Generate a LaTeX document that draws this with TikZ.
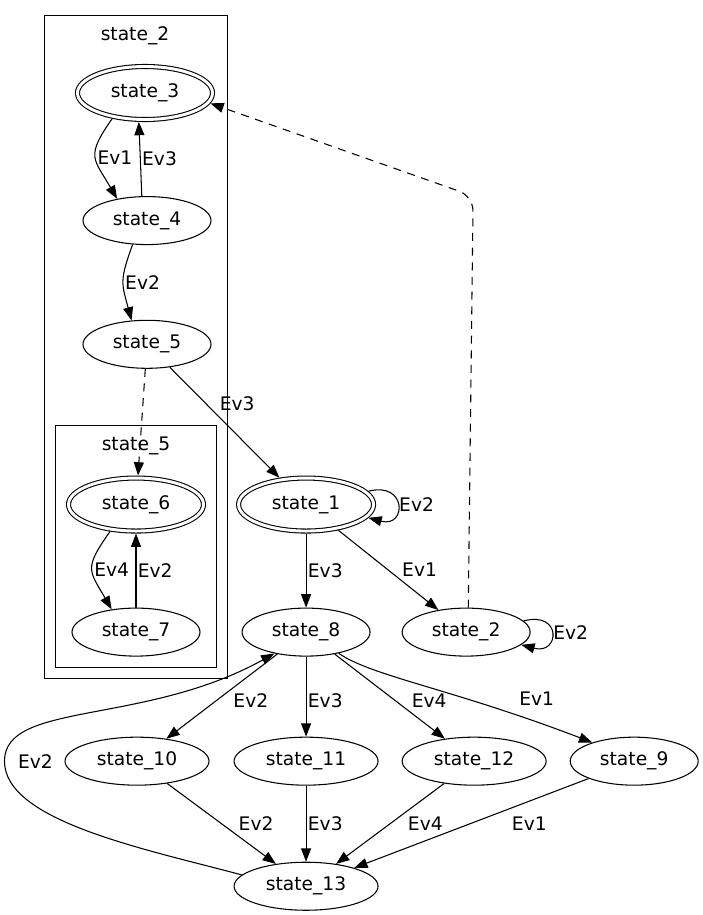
\documentclass[tikz,border=0pt]{standalone}
\usepackage{fontspec}
\setmainfont{DejaVu Sans}
\usetikzlibrary{positioning,fit,arrows.meta,shapes.geometric}

\begin{document}
\begin{tikzpicture}[
    font=\fontsize{14pt}{16pt}\selectfont,
    line width=0.8pt,
    st/.style={ellipse, draw, inner sep=0pt, minimum width=96pt, minimum height=36pt},
    wst/.style={st, minimum width=108pt},
    fin/.style={st, double, double distance=2.2pt, minimum width=101.25pt, minimum height=39.75pt, outer sep=1.9pt},
    ttl/.style={inner sep=0pt},
    grp/.style={rectangle, draw, inner sep=8pt},
    arr/.style={-{Triangle[length=10pt, width=7.5pt]}},
    dsh/.style={arr, dash pattern=on 6pt off 5pt},
    lbl/.style={inner sep=1pt}
]
    \path[use as bounding box] (0,0) rectangle (527.25pt,-686.25pt);

    % cluster state_2
    \node[fin] (s3) at (108.75pt,-69.75pt) {state\_3};
    \node[st, below=55.5pt of s3, xshift=1.5pt] (s4) {state\_4};
    \node[st, below=56pt of s4] (s5) {state\_5};
    \node[fin, below=80pt of s5, xshift=-8.25pt] (s6) {state\_6};
    \node[st, below=55.5pt of s6] (s7) {state\_7};
    \node[ttl, above=14pt of s3, xshift=-7.5pt] (ttl2) {state\_2};
    \node[ttl, above=15pt of s6] (ttl5) {state\_5};
    \node[grp, fit=(ttl5)(s6)(s7)] (box5) {};
    \node[grp, fit=(ttl2)(s3)(s5)(box5)] (box2) {};

    % the rest
    \node[fin, right=22.5pt of s6] (s1) {state\_1};
    \node[st, below=55.5pt of s1] (s8) {state\_8};
    \node[st, right=23.25pt of s8] (s2) {state\_2};
    \node[wst, below=60pt of s8] (s11) {state\_11};
    \node[wst, left=18pt of s11] (s10) {state\_10};
    \node[wst, right=17.25pt of s11] (s12) {state\_12};
    \node[st, right=17.25pt of s12] (s9) {state\_9};
    \node[wst, below=57pt of s11] (s13) {state\_13};
    \coordinate[above right=327pt and 5.25pt of s2.center] (bend2);
    \coordinate[left=45pt of s10] (w13);

    \draw[arr] (s3.-142) to[out=-125, in=120, looseness=1.5] node[lbl, right] {Ev1} (s4.144);
    \draw[arr] (s4.102) -- node[lbl, right] {Ev3} (s3.-102);
    \draw[arr] (s4.-121) to[out=-110, in=105, looseness=1.3] node[lbl, right] {Ev2} (s5.123);
    \draw[dsh] (s5) -- (s6);
    \draw[arr] (s6.-134) to[out=-125, in=120, looseness=1.5] node[lbl, right] {Ev4} (s7.137);
    \draw[arr] (s7) -- node[lbl, right] {Ev2} (s6);
    \draw[arr] (s5) -- node[lbl, pos=0.33, right=9pt] {Ev3} (s1);
    \draw[arr] (s1.12) to[out=15, in=-15, distance=30pt] node[lbl, right] {Ev2} (s1.-12);
    \draw[arr] (s1) -- node[lbl, right] {Ev3} (s8);
    \draw[arr] (s1) -- node[lbl, right=9pt] {Ev1} (s2);
    \draw[dsh, rounded corners=11pt] (s2.85) -- (bend2) -- (s3.-9);
    \draw[arr] (s2.11) to[out=15, in=-15, distance=30pt] node[lbl, right] {Ev2} (s2.-13);

    \draw[arr] (s8) -- node[lbl, pos=0.55, right=11.5pt] {Ev2} (s10);
    \draw[arr] (s8) -- node[lbl, pos=0.55, right] {Ev3} (s11);
    \draw[arr] (s8) -- node[lbl, pos=0.55, right=11pt] {Ev4} (s12);
    \draw[arr] (s8.-33) to[out=-35, in=159, out distance=30pt, in distance=112pt] node[lbl, pos=0.65, right=38pt] {Ev1} (s9.156);
    \draw[arr] (s13.170) to[out=165, in=-90, out distance=75pt, in distance=45pt] (w13) node[lbl, right=8.8pt] {Ev2}
        to[out=90, in=209, out distance=45pt, in distance=112pt] (s8.-146);

    \draw[arr] (s10) -- node[lbl, right=11.5pt] {Ev2} (s13);
    \draw[arr] (s11) -- node[lbl, right] {Ev3} (s13);
    \draw[arr] (s12) -- node[lbl, right=12pt] {Ev4} (s13);
    \draw[arr] (s9) -- node[lbl, right=29pt] {Ev1} (s13);
\end{tikzpicture}
\end{document}
